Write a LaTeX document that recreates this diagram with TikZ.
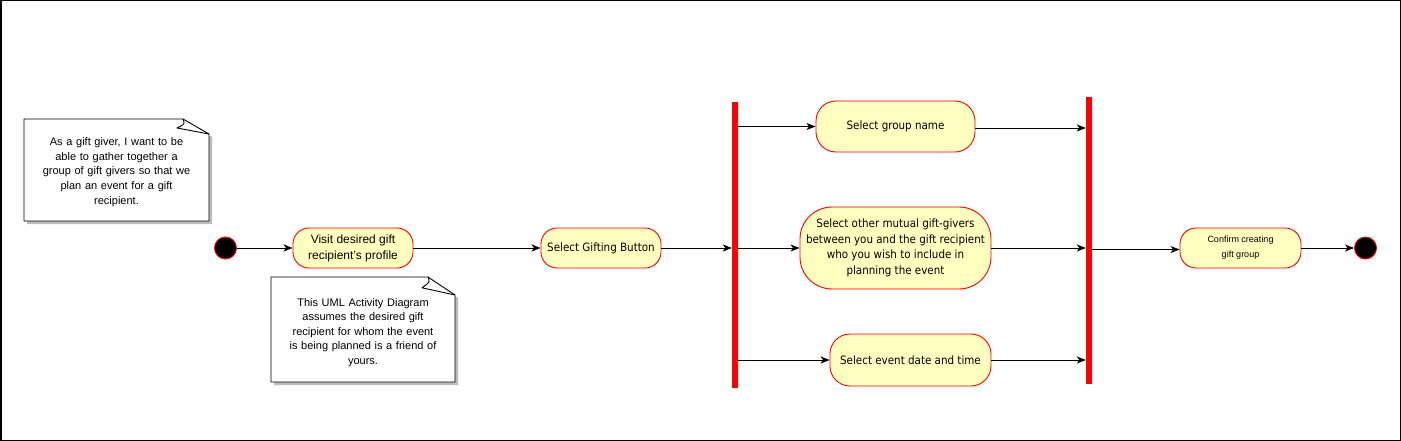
\documentclass[tikz,border=0pt]{standalone}
\usepackage{fontspec}
\setmainfont{Liberation Sans}
\newfontfamily\verd{DejaVu Sans Condensed}
\usetikzlibrary{arrows.meta,calc}
\definecolor{actfill}{HTML}{FFFFC0}
\definecolor{actred}{HTML}{FF0000}
\definecolor{shad}{HTML}{BBBBBB}
\begin{document}
\begin{tikzpicture}[x=1pt,y=-1pt,
  arr/.style={draw=black,line width=0.9pt,-{Stealth[length=9pt,width=7pt,inset=2.5pt]}},
  act/.style={draw=actred,fill=actfill,line width=0.9pt,rounded corners=16pt,align=center,inner sep=2pt},
  vtext/.style={font=\verd\fontsize{11.5}{15.5}\selectfont},
  htext/.style={font=\fontsize{12}{16}\selectfont},
  bar/.style={fill=actred,draw=none,minimum width=6pt,inner sep=0pt},
  dot/.style={circle,fill=black,draw=actred,line width=0.9pt,minimum size=22pt,inner sep=0pt},
  notebox/.style={draw=none,align=center,inner sep=0pt,font=\fontsize{11}{14.6}\selectfont,text width=178pt},
]
\path[use as bounding box,fill=white] (0,0) rectangle (1401,441);
\draw[line width=1.5pt] (0.75,0.75) rectangle (1400.25,440.25);

% note outlines (drawn first, text nodes on top)
\coordinate (n1nw) at (24,119);  \coordinate (n1se) at (209,221);
\coordinate (n2nw) at (271,277); \coordinate (n2se) at (455,382);
\foreach \n/\fx/\fy in {n1/26/15,n2/27/18}{
  \fill[shad] ($(\n nw)+(3,3)$) -- ($(\n se|-\n nw)+(3-\fx,3)$) -- ($(\n se|-\n nw)+(3,3+\fy)$) -- ($(\n se)+(3,3)$) -- ($(\n nw|-\n se)+(3,3)$) -- cycle;
  \fill[white] (\n nw) -- ($(\n se|-\n nw)+(-\fx,0)$) -- ($(\n se|-\n nw)+(0,\fy)$) -- (\n se) -- (\n nw|-\n se) -- cycle;
  \draw[line width=0.9pt,line join=round] (\n nw) -- ($(\n se|-\n nw)+(-\fx,0)$) -- ($(\n se|-\n nw)+(0,\fy)$) -- (\n se) -- (\n nw|-\n se) -- cycle;
  \draw[line width=0.9pt,line join=round] ($(\n se|-\n nw)+(-\fx,0)$) .. controls ($(\n se|-\n nw)+(-\fx+2,5)$) .. ($(\n se|-\n nw)+(-\fx-6,0.6*\fy)$) -- ($(\n se|-\n nw)+(0,\fy)$);
}
\node[notebox] (n1) at ($(n1nw)!0.5!(n1se)+(0,2)$) {As a gift giver, I want to be\\ able to gather together a\\ group of gift givers so that we\\ plan an event for a gift\\ recipient.};
\node[notebox] (n2) at ($(n2nw)!0.5!(n2se)+(0,3)$) {This UML Activity Diagram\\ assumes the desired gift\\ recipient for whom the event\\ is being planned is a friend of\\ yours.};

% start / end
\node[dot] (start) at (225.5,248) {};
\node[dot] (end) at (1365.5,248) {};

% actions
\node[act,htext,minimum width=120pt,minimum height=40pt] (visit) at (353,248) {Visit desired gift\\ recipient's profile};
\node[act,vtext,minimum width=120pt,minimum height=40pt] (gift) at (601,248) {Select Gifting Button};
\node[act,vtext,minimum width=159pt,minimum height=51pt,rounded corners=20pt] (grp) at (895.5,126.5) {Select group name};
\node[act,vtext,minimum width=191pt,minimum height=82pt,rounded corners=32pt] (mut) at (895.5,248) {Select other mutual gift-givers\\ between you and the gift recipient\\ who you wish to include in\\ planning the event};
\node[act,vtext,minimum width=161pt,minimum height=52pt,rounded corners=20pt] (date) at (910.5,360) {Select event date and time};
\node[act,font=\fontsize{9}{15}\selectfont,minimum width=121pt,minimum height=40pt] (conf) at (1240.5,248) {Confirm creating\\ gift group};

% bars
\node[bar,minimum height=286pt] (fork) at (735,245) {};
\node[bar,minimum height=287pt] (join) at (1089,240.5) {};

% connectors
\draw[arr] (start) -- (visit);
\draw[arr] (visit) -- (gift);
\draw[arr] (gift.east) -- (gift.east -| fork.west);
\draw[arr] (fork.east |- grp.west) -- (grp.west);
\draw[arr] (fork.east |- mut.west) -- (mut.west);
\draw[arr] (fork.east |- date.west) -- (date.west);
\draw[arr] ([yshift=-1.5pt]grp.east) -- ([yshift=-1.5pt]grp.east -| join.west);
\draw[arr] (mut.east) -- (mut.east -| join.west);
\draw[arr] (date.east) -- (date.east -| join.west);
\draw[arr] ([yshift=-1.5pt]join.east |- conf.west) -- ([yshift=-1.5pt]conf.west);
\draw[arr] (conf) -- (end);
\end{tikzpicture}
\end{document}
